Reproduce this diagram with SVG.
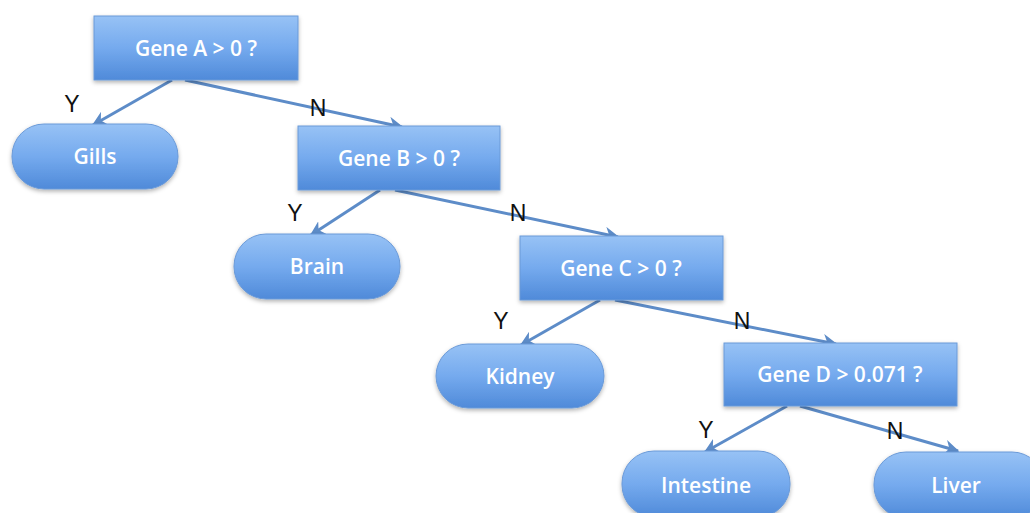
<svg xmlns="http://www.w3.org/2000/svg" width="1030" height="513" viewBox="0 0 1030 513">
<defs>
<linearGradient id="g" x1="0" y1="0" x2="0" y2="1">
<stop offset="0" stop-color="#97c2f5"/>
<stop offset="0.5" stop-color="#75aaee"/>
<stop offset="1" stop-color="#4f8ad9"/>
</linearGradient>
<filter id="sh" x="-10%" y="-10%" width="120%" height="130%">
<feDropShadow dx="0" dy="2" stdDeviation="2" flood-color="#000" flood-opacity="0.3"/>
</filter>
<marker id="ah" viewBox="0 0 10 10" refX="9" refY="5" markerWidth="5" markerHeight="5" orient="auto-start-reverse" markerUnits="strokeWidth">
<path d="M0,0 L10,5 L0,10 L3,5 z" fill="#5d8cc8"/>
</marker>
<style>
.n{fill:url(#g);stroke:#6b9ad8;stroke-width:1;filter:url(#sh)}
.t{fill:#fff;font-family:"Open Sans","Liberation Sans",sans-serif;font-size:21px;font-weight:600;text-anchor:middle;dominant-baseline:central}
.e{stroke:#5d8cc8;stroke-width:3;fill:none;marker-end:url(#ah)}
.l{fill:#111;font-family:"Liberation Sans",Arial,sans-serif;font-size:23px;text-anchor:middle;dominant-baseline:central}
</style>
</defs>
<g id="connectors">
<line class="e" x1="172" y1="80" x2="93" y2="125"/>
<line class="e" x1="185" y1="80" x2="402" y2="127"/>
<line class="e" x1="380" y1="190" x2="311" y2="235"/>
<line class="e" x1="395" y1="190" x2="618" y2="237"/>
<line class="e" x1="600" y1="300" x2="521" y2="345"/>
<line class="e" x1="615" y1="300" x2="836" y2="344"/>
<line class="e" x1="787" y1="406" x2="705" y2="452"/>
<line class="e" x1="800" y1="406" x2="958" y2="451"/>
<text class="l" x="72" y="104">Y</text>
<text class="l" x="318" y="108">N</text>
<text class="l" x="295" y="213">Y</text>
<text class="l" x="518" y="213">N</text>
<text class="l" x="501" y="321">Y</text>
<text class="l" x="742" y="321">N</text>
<text class="l" x="706" y="430">Y</text>
<text class="l" x="895" y="431">N</text>
</g>
<g id="geneA"><rect class="n" x="94" y="16" width="204" height="64"/><text class="t" x="196" y="48">Gene A &gt; 0 ?</text></g>
<g id="gills"><rect class="n" x="12" y="124" width="166" height="65" rx="32"/><text class="t" x="95" y="156">Gills</text></g>
<g id="geneB"><rect class="n" x="298" y="126" width="202" height="64"/><text class="t" x="399" y="158">Gene B &gt; 0 ?</text></g>
<g id="brain"><rect class="n" x="234" y="234" width="166" height="65" rx="32"/><text class="t" x="317" y="266">Brain</text></g>
<g id="geneC"><rect class="n" x="520" y="236" width="203" height="64"/><text class="t" x="621" y="268">Gene C &gt; 0 ?</text></g>
<g id="kidney"><rect class="n" x="436" y="344" width="168" height="64" rx="32"/><text class="t" x="520" y="376">Kidney</text></g>
<g id="geneD"><rect class="n" x="724" y="343" width="233" height="63"/><text class="t" x="840" y="374">Gene D &gt; 0.071 ?</text></g>
<g id="intestine"><rect class="n" x="622" y="451" width="168" height="66" rx="32"/><text class="t" x="706" y="485">Intestine</text></g>
<g id="liver"><rect class="n" x="874" y="452" width="170" height="66" rx="32"/><text class="t" x="956" y="485">Liver</text></g>
</svg>
